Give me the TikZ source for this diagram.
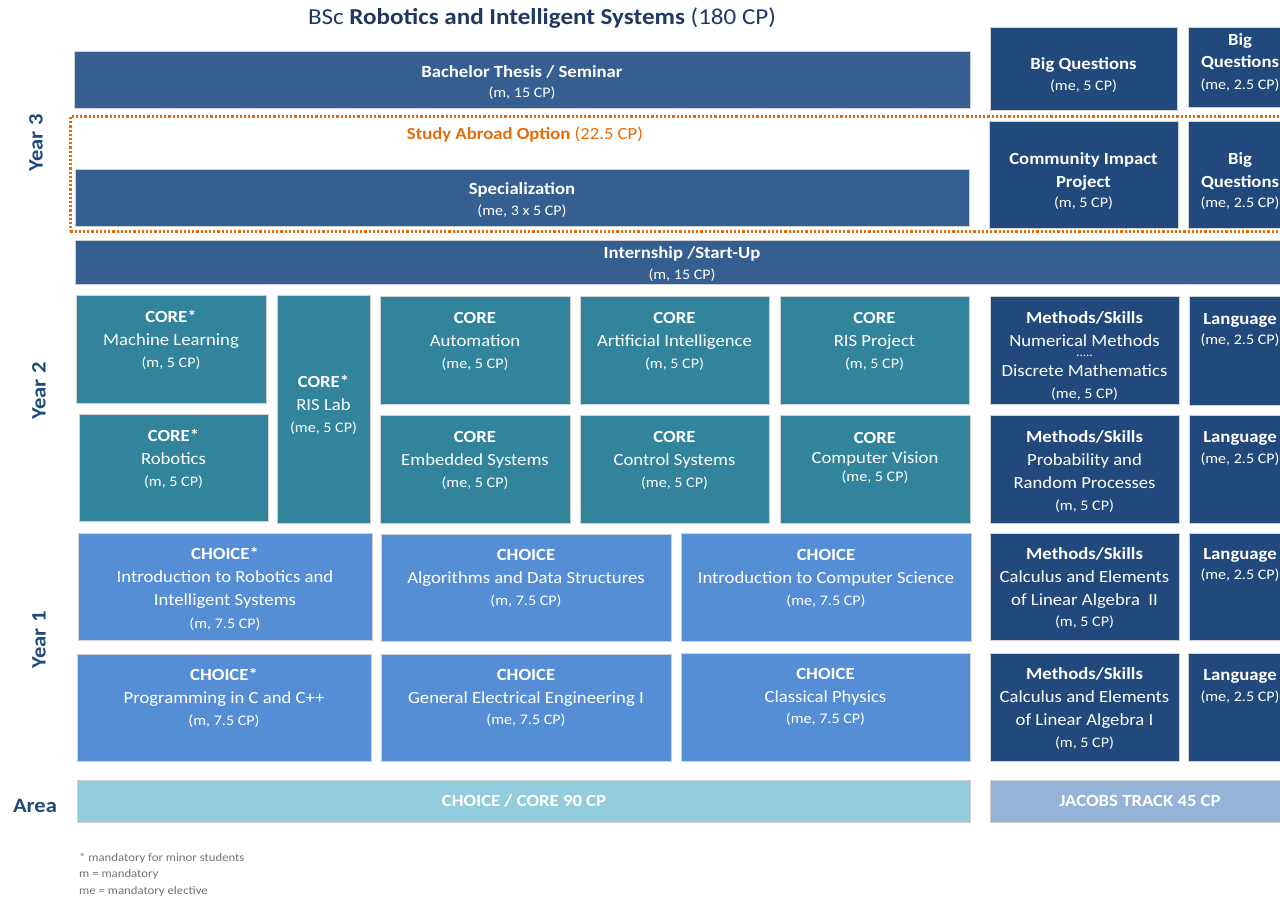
\documentclass[tikz,border=0pt]{standalone}
\usepackage{fontspec}
\setmainfont{Carlito}[FakeStretch=1.1]
\definecolor{yrthree}{HTML}{365F91}
\definecolor{jtC}{HTML}{21497B}
\definecolor{coreC}{HTML}{31849B}
\definecolor{choiceC}{HTML}{558ED5}
\definecolor{areaA}{HTML}{93CDDD}
\definecolor{areaB}{HTML}{95B3D7}
\definecolor{orng}{HTML}{E46C0A}
\definecolor{lblC}{HTML}{1F497D}
\definecolor{ttlC}{HTML}{1F3864}
\newcommand\hf{\fontsize{17}{23}\selectfont}
\newcommand\cpf{\fontsize{14.6}{18}\selectfont}
\tikzset{
  blk/.style={draw=black!18, line width=0.7pt, inner sep=0pt, outer sep=0pt, anchor=north west},
  txt/.style={text=white, align=center, inner sep=0pt, anchor=north, font=\hf},
  lbl/.style={text=lblC, font=\fontsize{20.5}{24}\selectfont\bfseries, inner sep=0pt},
  abroad/.style={draw=orng, line width=2.8pt, dash pattern=on 2.2pt off 2pt, inner sep=0pt, anchor=north west}
}
\newcommand\bx[6]{\node[blk, fill=#6, minimum width={#4-#2}, minimum height={#5-#3}] (#1) at (#2,#3) {};}
\newcommand\tx[4]{\node[txt] (#1) at (#2,{#3-7}) {\rule{0pt}{13pt}#4};}
\begin{document}
\begin{tikzpicture}[x=1pt,y=-1pt]
\path[use as bounding box] (0,0) rectangle (1280,897);
\fill[white] (0,0) rectangle (1280,897);
\clip (0,0) rectangle (1280,897);

% title
\node[font=\fontsize{22.8}{26}\selectfont, text=ttlC, inner sep=0pt] (title) at (542,18) {BSc \textbf{Robotics and Intelligent Systems} (180 CP)};

% side labels
\node[lbl, rotate=90] (y3) at (36,143) {Year 3};
\node[lbl, rotate=90] (y2) at (39,391) {Year 2};
\node[lbl, rotate=90] (y1) at (39,640) {Year 1};
\node[lbl] (area) at (35,806) {Area};

% Year 3
\bx{bt}{74}{51}{970}{108}{yrthree}
\tx{tbt}{522}{71}{\textbf{Bachelor Thesis / Seminar}\\[-3pt]{\cpf (m, 15 CP)}}
\bx{bq}{990}{27}{1177}{110}{jtC}
\tx{tbq}{1083.5}{63}{\textbf{Big Questions}\\[-2pt]{\cpf (me, 5 CP)}}
\bx{bqa}{1188}{27}{1292}{107}{jtC}
\tx{tbqa}{1240}{39}{\textbf{Big}\\[-1pt]\textbf{Questions}\\[-1pt]{\cpf (me, 2.5 CP)}}

\node[abroad, minimum width=1240pt, minimum height=115pt] (sa) at (69,115) {};
\node[text=orng, font=\hf, inner sep=0pt] (tsa) at (525,135) {\textbf{Study Abroad Option} (22.5 CP)};

\bx{spec}{75}{169}{969}{226}{yrthree}
\tx{tspec}{522}{188}{\textbf{Specialization}\\[-2pt]{\cpf (me, 3 x 5 CP)}}
\bx{cip}{989}{121}{1178}{228}{jtC}
\tx{tcip}{1083.5}{158}{\textbf{Community Impact}\\\textbf{Project}\\[-3pt]{\cpf (m, 5 CP)}}
\bx{bqb}{1188}{121}{1292}{228}{jtC}
\tx{tbqb}{1240}{158}{\textbf{Big}\\\textbf{Questions}\\[-3pt]{\cpf (me, 2.5 CP)}}

\bx{intern}{75}{240}{1300}{284}{yrthree}
\tx{tintern}{682}{252}{\textbf{Internship /Start-Up}\\[-2pt]{\cpf (m, 15 CP)}}

% Year 2
\bx{ml}{76}{295}{266}{403}{coreC}
\tx{tml}{171}{316}{\textbf{CORE*}\\Machine Learning\\[-1pt]{\cpf (m, 5 CP)}}
\bx{rislab}{277}{295}{370}{523}{coreC}
\tx{trislab}{323.5}{381}{\textbf{CORE*}\\RIS Lab\\[-1pt]{\cpf (me, 5 CP)}}
\bx{auto}{380}{296}{570}{404}{coreC}
\tx{tauto}{475}{317}{\textbf{CORE}\\Automation\\[-1pt]{\cpf (me, 5 CP)}}
\bx{ai}{580}{296}{769}{404}{coreC}
\tx{tai}{674.5}{317}{\textbf{CORE}\\Artificial Intelligence\\[-1pt]{\cpf (m, 5 CP)}}
\bx{risp}{780}{296}{969}{404}{coreC}
\tx{trisp}{874.5}{317}{\textbf{CORE}\\RIS Project\\[-1pt]{\cpf (m, 5 CP)}}
\bx{rob}{79}{414}{268}{521}{coreC}
\tx{trob}{173.5}{435}{\textbf{CORE*}\\Robotics\\[-1pt]{\cpf (m, 5 CP)}}
\bx{emb}{380}{415}{570}{523}{coreC}
\tx{temb}{475}{436}{\textbf{CORE}\\Embedded Systems\\[-1pt]{\cpf (me, 5 CP)}}
\bx{ctrl}{580}{415}{769}{523}{coreC}
\tx{tctrl}{674.5}{436}{\textbf{CORE}\\Control Systems\\[-1pt]{\cpf (me, 5 CP)}}
\bx{cv}{780}{415}{970}{523}{coreC}
\tx{tcv}{875}{437}{\textbf{CORE}\\[-3pt]Computer Vision\\[-5pt]{\cpf (me, 5 CP)}}
\bx{msa}{990}{296}{1179}{404}{jtC}
\tx{tmsa}{1084.5}{317}{\textbf{Methods/Skills}\\Numerical Methods\\[-13pt]{\fontsize{12}{12}\selectfont .....}\\[-3pt]Discrete Mathematics\\[-1pt]{\cpf (me, 5 CP)}}
\bx{langa}{1189}{296}{1292}{405}{jtC}
\tx{tlanga}{1240}{318}{\textbf{Language}\\[-3pt]{\cpf (me, 2.5 CP)}}
\bx{msb}{990}{415}{1179}{523}{jtC}
\tx{tmsb}{1084.5}{436}{\textbf{Methods/Skills}\\Probability and\\Random Processes\\[-1pt]{\cpf (m, 5 CP)}}
\bx{langb}{1189}{415}{1292}{523}{jtC}
\tx{tlangb}{1240}{436}{\textbf{Language}\\[-2pt]{\cpf (me, 2.5 CP)}}

% Year 1
\bx{irob}{78}{533}{372}{640}{choiceC}
\tx{tirob}{225}{553}{\textbf{CHOICE*}\\Introduction to Robotics and\\Intelligent Systems\\{\cpf (m, 7.5 CP)}}
\bx{algo}{381}{534}{671}{641}{choiceC}
\tx{talgo}{526}{554}{\textbf{CHOICE}\\Algorithms and Data Structures\\[-1pt]{\cpf (m, 7.5 CP)}}
\bx{ics}{681}{533}{971}{641}{choiceC}
\tx{tics}{826}{554}{\textbf{CHOICE}\\Introduction to Computer Science\\[-1pt]{\cpf (me, 7.5 CP)}}
\bx{msc}{990}{533}{1179}{640}{jtC}
\tx{tmsc}{1084.5}{553}{\textbf{Methods/Skills}\\Calculus and Elements\\of Linear Algebra\ \ II\\[-2pt]{\cpf (m, 5 CP)}}
\bx{langc}{1189}{533}{1292}{640}{jtC}
\tx{tlangc}{1240}{553}{\textbf{Language}\\[-3pt]{\cpf (me, 2.5 CP)}}
\bx{prog}{77}{654}{371}{761}{choiceC}
\tx{tprog}{224}{674}{\textbf{CHOICE*}\\Programming in C and C++\\[-1pt]{\cpf (m, 7.5 CP)}}
\bx{gee}{381}{654}{671}{761}{choiceC}
\tx{tgee}{526}{674}{\textbf{CHOICE}\\General Electrical Engineering I\\[-2pt]{\cpf (me, 7.5 CP)}}
\bx{phys}{681}{653}{970}{761}{choiceC}
\tx{tphys}{825.5}{673}{\textbf{CHOICE}\\Classical Physics\\[-2pt]{\cpf (me, 7.5 CP)}}
\bx{msd}{990}{653}{1179}{761}{jtC}
\tx{tmsd}{1084.5}{673}{\textbf{Methods/Skills}\\Calculus and Elements\\of Linear Algebra I\\[-1pt]{\cpf (m, 5 CP)}}
\bx{langd}{1188}{653}{1292}{761}{jtC}
\tx{tlangd}{1240}{674}{\textbf{Language}\\[-2pt]{\cpf (me, 2.5 CP)}}

% Area
\bx{acc}{77}{780}{970}{822}{areaA}
\node[text=white, font=\fontsize{17}{20}\selectfont\bfseries, inner sep=0pt] (tacc) at (524,801) {CHOICE / CORE 90 CP};
\bx{ajt}{990}{780}{1300}{822}{areaB}
\node[text=white, font=\fontsize{17}{20}\selectfont\bfseries, inner sep=0pt] (tajt) at (1140,801) {JACOBS TRACK 45 CP};

% footnote
\node[anchor=north west, text=black!55, font=\fontsize{11.6}{16.5}\selectfont, align=left, inner sep=0pt] (foot) at (79,853) {* mandatory for minor students\\m = mandatory\\me = mandatory elective};
\end{tikzpicture}
\end{document}
